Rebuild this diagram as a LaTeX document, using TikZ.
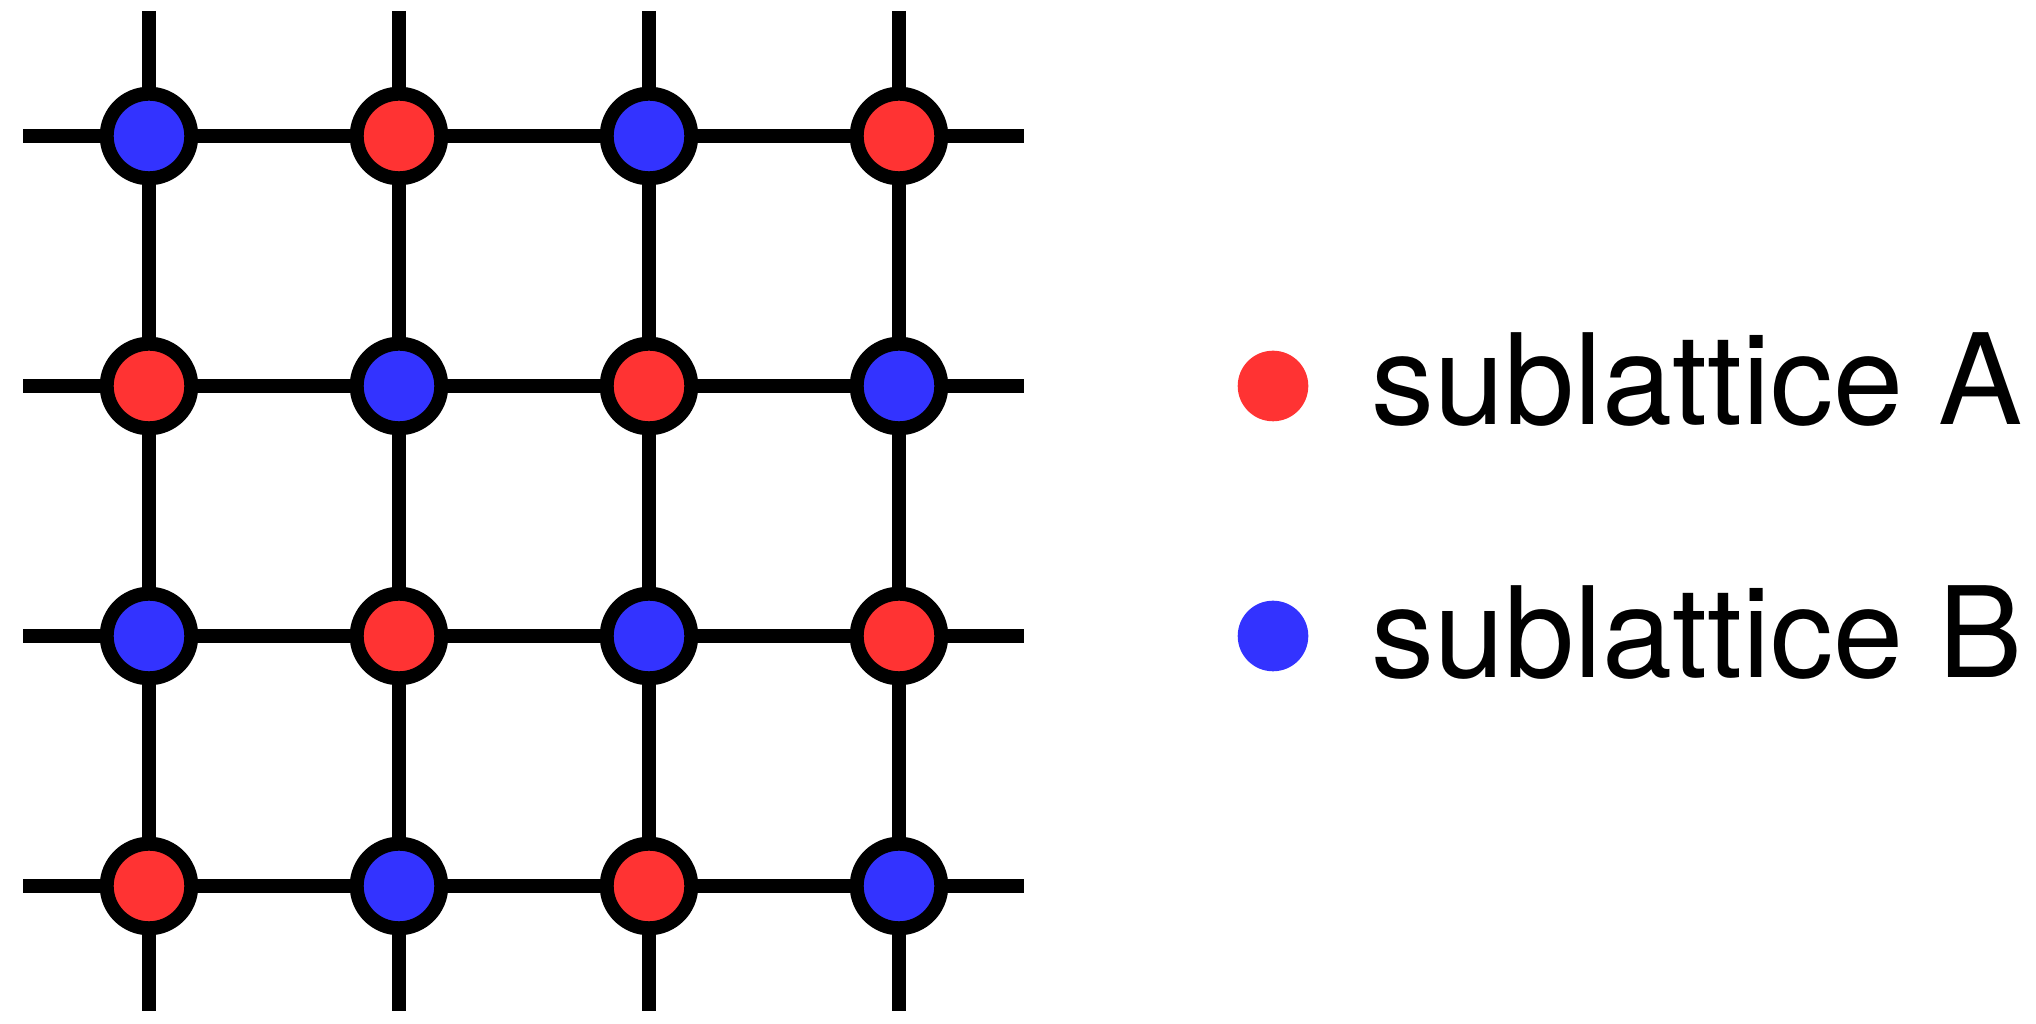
\documentclass[tikz,border=0pt]{standalone}
\usepackage{fontspec}
\setmainfont{TeX Gyre Heros}
\definecolor{siteA}{HTML}{FF3333}
\definecolor{siteB}{HTML}{3333FF}
\begin{document}
\begin{tikzpicture}[x=1pt,y=1pt,
  bond/.style={line width=13.3pt,black},
  latsite/.style={circle,draw=black,line width=14pt,minimum size=84.6pt,inner sep=0pt,outer sep=0pt},
  legdot/.style={circle,minimum size=70.6pt,inner sep=0pt,outer sep=0pt},
  legtext/.style={anchor=base west,inner sep=0pt,font=\fontsize{126}{150}\selectfont}]
\useasboundingbox (0,0) rectangle (2036,1024);
% sites
\foreach \i in {1,...,4} {
  \foreach \j in {1,...,4} {
    \pgfmathsetmacro\xx{149+250*(\i-1)}
    \pgfmathsetmacro\yy{888-250*(\j-1)}
    \pgfmathtruncatemacro\p{mod(\i+\j,2)}
    \ifnum\p=0 \def\col{siteB}\else\def\col{siteA}\fi
    \node[latsite,fill=\col] (n-\i-\j) at (\xx,\yy) {};
  }
}
% free ends
\foreach \k in {1,...,4} {
  \pgfmathsetmacro\xx{149+250*(\k-1)}
  \pgfmathsetmacro\yy{888-250*(\k-1)}
  \coordinate (top-\k) at (\xx,1013);
  \coordinate (bot-\k) at (\xx,13);
  \coordinate (lft-\k) at (23,\yy);
  \coordinate (rgt-\k) at (1024,\yy);
}
% bonds
\foreach \k in {1,...,4} {
  \draw[bond] (lft-\k) -- (n-1-\k) -- (n-2-\k) -- (n-3-\k) -- (n-4-\k) -- (rgt-\k);
  \draw[bond] (top-\k) -- (n-\k-1) -- (n-\k-2) -- (n-\k-3) -- (n-\k-4) -- (bot-\k);
}
% legend
\node[legdot,fill=siteA] (dotA) at (1273,638) {};
\node[legdot,fill=siteB] (dotB) at (1273,388) {};
\node[legtext] (labA) at (1371,599) {sublattice A};
\node[legtext] (labB) at (1371,346.4) {sublattice B};
\end{tikzpicture}
\end{document}
